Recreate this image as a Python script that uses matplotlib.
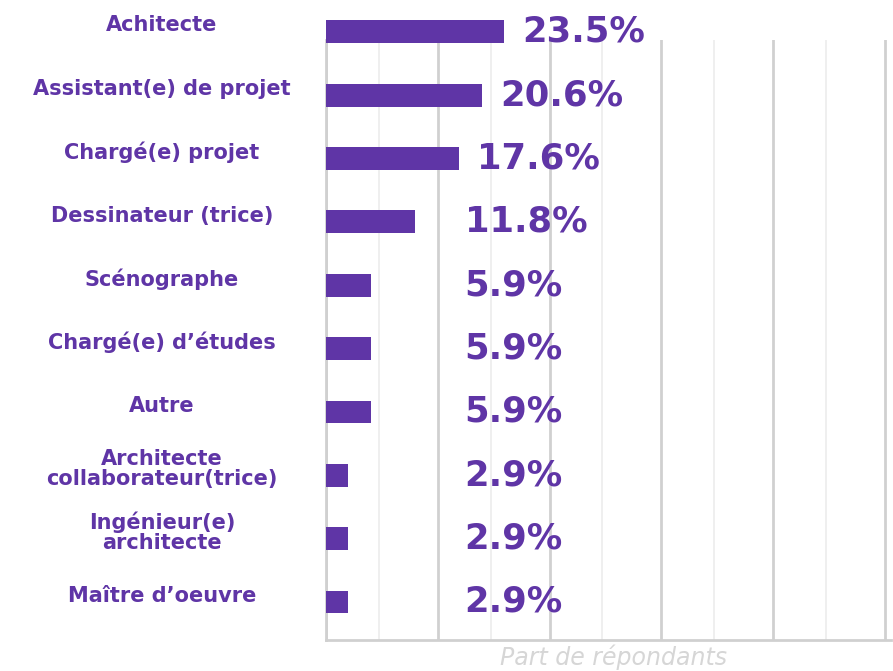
import matplotlib
matplotlib.use("Agg")
import matplotlib.pyplot as plt
import numpy as np

categories = ["Achitecte", "Assistant(e) de projet", "Chargé(e) projet",
              "Dessinateur (trice)", "Scénographe", "Chargé(e) d\u2019études",
              "Autre", "Architecte\ncollaborateur(trice)", "Ingénieur(e)\narchitecte",
              "Maître d\u2019oeuvre"]
values = [23.5, 20.6, 17.6, 11.8, 5.9, 5.9, 5.9, 2.9, 2.9, 2.9]
value_labels = ["23.5%", "20.6%", "17.6%", "11.8%", "5.9%", "5.9%", "5.9%",
                "2.9%", "2.9%", "2.9%"]

PURPLE = "#5f35a6"
W, H = 893, 671
fig = plt.figure(figsize=(W / 100, H / 100), dpi=100)
ax = fig.add_axes([326 / W, (H - 640) / H, (891 - 326) / W, 600 / H])

y = np.arange(len(categories))
ax.barh(y, values, height=0.36, color=PURPLE, clip_on=False, zorder=3)

xmax = (891 - 326) / 7.57
ax.set_xlim(0, xmax)
ax.set_ylim(9.6, 0.13)

step = 14.77
ax.set_xticks(np.arange(0, xmax, step))
ax.set_xticks(np.arange(step / 2 - 0.4, xmax, step), minor=True)
ax.grid(which="major", axis="x", color="#d0d0d0", linewidth=2, zorder=0)
ax.grid(which="minor", axis="x", color="#ececec", linewidth=1.2, zorder=0)
ax.tick_params(which="both", length=0, labelbottom=False, labelleft=False)
for s in ["top", "right"]:
    ax.spines[s].set_visible(False)
for s in ["left", "bottom"]:
    ax.spines[s].set_color("#d0d0d0")
    ax.spines[s].set_linewidth(2)

for yi, v, lab in zip(y, values, value_labels):
    ax.text(max(v, 15.9) + 2.4, yi, lab, ha="left", va="center",
            fontsize=25.5, fontweight="bold", color=PURPLE, clip_on=False)

trans = matplotlib.transforms.blended_transform_factory(fig.transFigure, ax.transData)
for yi, c in zip(y, categories):
    ax.text(162 / W, yi - 0.1, c, transform=trans, ha="center", va="center",
            fontsize=15, fontweight="bold", color=PURPLE, linespacing=1.0)

fig.text(613 / W, (H - 665) / H, "Part de répondants", ha="center", va="baseline",
         fontsize=17, style="italic", color="#d6d6d6")

fig.savefig("out.png", dpi=100)
